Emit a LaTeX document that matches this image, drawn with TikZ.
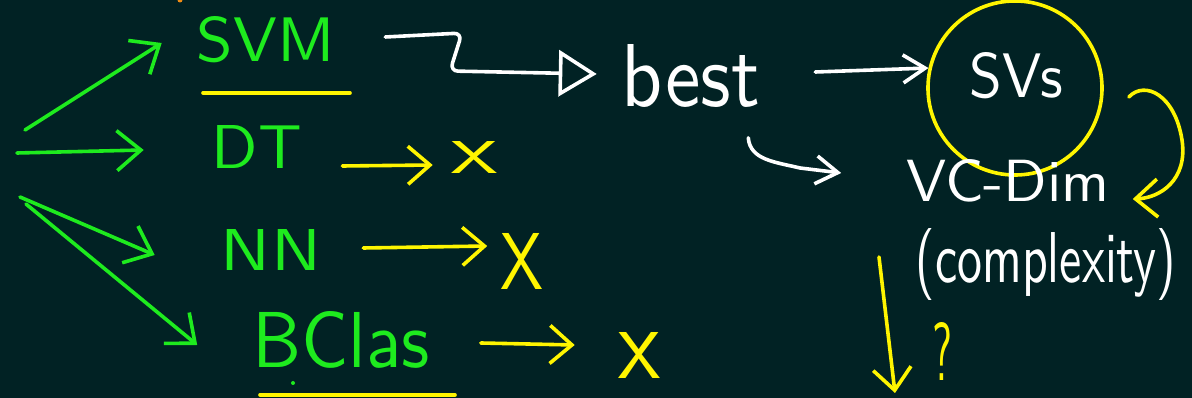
\documentclass[tikz,border=0pt]{standalone}
\usetikzlibrary{arrows.meta,calc}
\definecolor{bg}{RGB}{1,34,36}
\definecolor{hgreen}{RGB}{30,235,30}
\definecolor{hyellow}{RGB}{255,245,0}
\definecolor{horange}{RGB}{240,140,20}
\newlength\pxu \setlength\pxu{0.025cm}
\newcommand\hw[3]{\resizebox{#1\pxu}{#2\pxu}{#3}}
\newcommand\hwt[3]{\resizebox*{#1\pxu}{#2\pxu}{#3}}
\tikzset{
 txt/.style={inner sep=0pt, font=\sffamily},
 gtxt/.style={txt,text=hgreen},
 wtxt/.style={txt,text=white},
 ytxt/.style={txt,text=hyellow},
 stroke/.style={line width=0.09cm, line cap=round, line join=round},
 garrow/.style={stroke, draw=hgreen, -{Straight Barb[length=0.6cm,width=1.0cm]}},
 yarrow/.style={stroke, draw=hyellow, -{Straight Barb[length=0.55cm,width=0.95cm]}},
 warrow/.style={stroke, draw=white, -{Straight Barb[length=0.55cm,width=0.7cm]}},
 uline/.style={stroke, draw=hyellow},
}
\begin{document}
\begin{tikzpicture}[x=0.025cm,y=-0.025cm]
\useasboundingbox (0,0) rectangle (1192,398);
\fill[bg] (0,0) rectangle (1192,398);
% text nodes
\node[gtxt] (svm) at (266,40) {\hw{138}{45}{SVM}};
\node[gtxt] (dt) at (257,147) {\hw{90}{43}{DT}};
\node[gtxt] (nn) at (271,250) {\hw{100}{41}{NN}};
\node[gtxt] (bc) at (341,340) {\hw{177}{56}{BClas}};
\node[wtxt] (best) at (691,76) {\hw{138}{62}{best}};
\node[circle, draw=hyellow, line width=0.09cm, minimum size=4.35cm, inner sep=0pt] (svs) at (1015,88) {};
\node[wtxt] (svstext) at (1016,76) {\hw{93}{45}{SVs}};
\node[wtxt] (vc) at (1008,181) {\hw{203}{42}{VC-Dim}};
\node[wtxt] (cx) at (1046,264) {\hwt{260}{72}{(complexity)}};
\node[ytxt] (q) at (942,351) {\hw{20}{58}{?}};
\node[ytxt] (xdt) at (474,158) {\hw{46}{32}{x}};
\node[ytxt] (xnn) at (522,261) {\hw{43}{56}{X}};
\node[ytxt] (xbc) at (639,355) {\hw{42}{46}{x}};
% free ends
\coordinate (s1) at (25,130);
\coordinate (s2) at (17,153);
\coordinate (s3) at (20,197);
\coordinate (s4) at (26,204);
\coordinate (d1) at (879,257);
\coordinate (d2) at (895,393);
% green arrows
\draw[garrow] (s1) -- ($(svm.west)+(-35,3)$);
\draw[garrow] (s2) -- ($(dt.west)+(-68,3)$);
\draw[garrow] (s3) -- ($(nn.west)+(-66,5)$);
\draw[garrow] (s4) -- ($(bc.west)+(-55,5)$);
% underlines
\draw[uline] (203,93) -- (350,93);
\draw[uline] (260,395) -- (455,395);
\fill[hgreen] (293,383) circle (2);
\fill[horange] (180,0) circle (2.5);
% yellow arrows
\draw[yarrow] ($(dt.east)+(40,19)$) -- ($(xdt.west)+(-18,7)$);
\draw[yarrow] ($(nn.east)+(42,-2)$) -- ($(xnn.west)+(-13,-15)$);
\draw[yarrow] ($(bc.east)+(51,3)$) -- ($(xbc.west)+(-43,-10)$);
% white arrows
\draw[stroke, draw=white, rounded corners=0.2cm, -{Triangle[open,length=0.95cm,width=1.15cm]}]
  ($(svm.east)+(50,-3)$) -- (462,33) -- (450,71) -- ($(best.west)+(-25,-2)$);
\draw[warrow] ($(best.east)+(55,-4)$) -- (svs.167);
\draw[warrow] ($(best.south east)+(-12,30)$) .. controls (750,160) and (775,162) .. (800,168) -- ($(vc.west)+(-65,-8)$);
% yellow curved arrow
\draw[yarrow] ($(svs.east)+(25,9)$) .. controls (1145,80) and (1175,95) .. (1182,140)
  .. controls (1188,180) and (1160,198) .. ($(vc.east)+(23,18)$);
% down arrow
\draw[yarrow] (d1) -- (d2);
\end{tikzpicture}
\end{document}
